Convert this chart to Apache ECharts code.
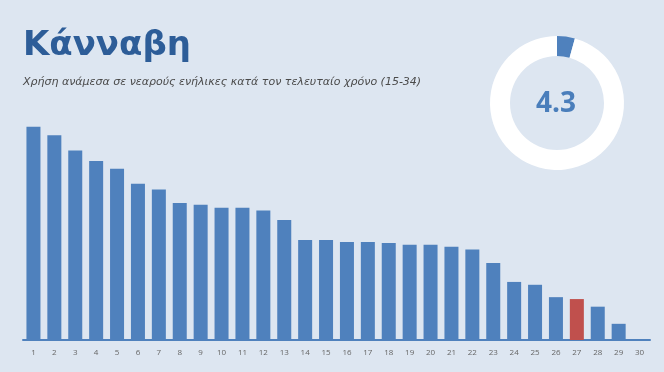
<!DOCTYPE html>
<html>
<head>
<meta charset="utf-8">
<script src="https://cdn.jsdelivr.net/npm/echarts@6/dist/echarts.min.js"></script>
<style>
  html, body { margin: 0; padding: 0; background: #eef2f8; }
  #chart { width: 664px; height: 372px; }
</style>
</head>
<body>
<div id="chart"></div>
<script>
// Country ranks (1-30) and cannabis last-year use among young adults (15-34), %
const ranks = ['1','2','3','4','5','6','7','8','9','10','11','12','13','14','15',
               '16','17','18','19','20','21','22','23','24','25','26','27','28','29','30'];
const useRates = [22.4, 21.5, 19.9, 18.8, 18.0, 16.4, 15.8, 14.4, 14.2, 13.9,
                  13.9, 13.6, 12.6, 10.5, 10.5, 10.3, 10.3, 10.2, 10.0, 10.0,
                  9.8, 9.5, 8.1, 6.1, 5.8, 4.5, 4.3, 3.5, 1.7, 0];
const highlightRank = '27';
const highlightValue = 4.3;

const titleText = 'Κάνναβη';
const subtitleText = 'Χρήση ανάμεσα σε νεαρούς ενήλικες κατά τον τελευταίο χρόνο (15-34)';

const blue = '#4f81bd';
const red = '#c0504d';

const chart = echarts.init(document.getElementById('chart'), null, { renderer: 'canvas' });

const barData = useRates.map((v, i) => ({
  value: v,
  itemStyle: { color: ranks[i] === highlightRank ? red : blue }
}));

chart.setOption({
  backgroundColor: '#dde6f1',
  animation: false,
  title: [
    {
      text: titleText,
      left: 23, top: 29, padding: 0,
      textStyle: { fontFamily: 'DejaVu Sans', fontWeight: 'bold', fontSize: 34, color: '#2d5d98' }
    },
    {
      text: subtitleText,
      left: 23, top: 77, padding: 0,
      textStyle: { fontFamily: 'DejaVu Sans', fontStyle: 'italic', fontWeight: 'normal', fontSize: 11, color: '#4a4a4a' }
    }
  ],
  grid: { left: 23, right: 14, top: 102, bottom: 32, containLabel: false },
  xAxis: {
    type: 'category',
    data: ranks,
    axisLine: { lineStyle: { color: blue, width: 2 } },
    axisTick: { show: false },
    axisLabel: { color: '#666', fontSize: 8, margin: 9, interval: 0, fontFamily: 'Open Sans' }
  },
  yAxis: {
    type: 'value', min: 0, max: 25,
    show: false, splitLine: { show: false }
  },
  series: [
    {
      type: 'bar',
      data: barData,
      barWidth: '67%'
    },
    {
      type: 'pie',
      center: [557, 103],
      radius: [47, 67],
      startAngle: 90,
      clockwise: true,
      silent: true,
      label: { show: false },
      labelLine: { show: false },
      data: [
        { value: highlightValue, itemStyle: { color: blue } },
        { value: 100 - highlightValue, itemStyle: { color: '#ffffff' } }
      ]
    }
  ],
  graphic: [
    {
      type: 'text',
      x: 556, y: 104,
      style: {
        text: String(highlightValue),
        align: 'center', verticalAlign: 'middle',
        fontFamily: 'Open Sans', fontWeight: 'bold', fontSize: 28,
        fill: '#4a7ebb'
      }
    }
  ]
});
</script>
</body>
</html>
